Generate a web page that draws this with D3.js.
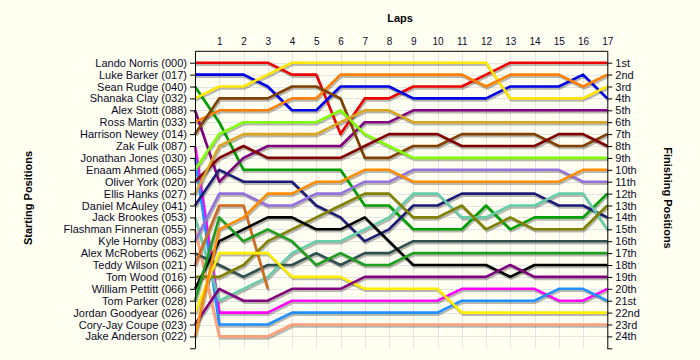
<!DOCTYPE html>
<html><head><meta charset="utf-8">
<script src="https://cdn.jsdelivr.net/npm/d3@7/dist/d3.min.js"></script>
<style>
body{margin:0;background:#fffff2;}
text{font-family:"Liberation Sans",Arial,sans-serif;}
</style>
</head><body>
<svg id="c" width="700" height="360"></svg>
<script>
const lapTicks = d3.range(1, 18);
const startNames = ["Lando Norris (000)","Luke Barker (017)","Sean Rudge (040)","Shanaka Clay (032)","Alex Stott (088)","Ross Martin (033)","Harrison Newey (014)","Zak Fulk (087)","Jonathan Jones (030)","Enaam Ahmed (065)","Oliver York (020)","Ellis Hanks (027)","Daniel McAuley (041)","Jack Brookes (053)","Flashman Finneran (055)","Kyle Hornby (083)","Alex McRoberts (062)","Teddy Wilson (021)","Tom Wood (016)","William Pettitt (066)","Tom Parker (028)","Jordan Goodyear (026)","Cory-Jay Coupe (023)","Jake Anderson (022)"];
const finishLabels = ["1st","2nd","3rd","4th","5th","6th","7th","8th","9th","10th","11th","12th","13th","14th","15th","16th","17th","18th","19th","20th","21st","22nd","23rd","24th"];

// positions at lap 0..17
const norris    = [1,1,1,1,2,2,7,4,4,3,3,3,2,1,1,1,1,1];
const barker    = [2,2,2,3,5,5,3,3,3,4,4,4,4,3,3,3,2,4];
const rudge     = [3,6,10,10,10,10,10,13,13,15,15,15,13,15,14,14,14,12];
const clay      = [4,3,3,2,1,1,1,1,1,1,1,1,1,4,4,4,4,3];
const stott     = [5,11,9,8,8,8,8,6,6,5,5,5,5,5,5,5,5,5];
const martin    = [6,5,5,5,4,4,2,2,2,2,2,2,3,2,2,2,3,2];
const newey     = [7,4,4,4,3,3,4,9,9,8,8,7,7,7,7,8,8,7];
const fulk      = [8,22,22,22,21,21,21,21,21,21,21,20,20,20,20,21,21,20];
const jones     = [9,23,23,23,22,22,22,22,22,22,22,21,21,21,21,20,20,21];
const ahmed     = [10,7,6,6,6,6,5,7,8,9,9,9,9,9,9,9,9,9];
const york      = [11,9,8,9,9,9,9,8,7,7,7,8,8,8,8,7,7,8];
const hanks     = [12,8,7,7,7,7,6,5,5,6,6,6,6,6,6,6,6,6];
const mcauley   = [13,10,11,11,11,13,14,16,15,13,13,12,12,12,12,13,13,14];
const brookes   = [14,21,20,19,17,16,16,15,14,12,12,14,14,13,13,12,12,15];
const finneran  = [15,24,24,24,23,23,23,23,23,23,23,23,23,23,23,23,23,23];
const hornby    = [16,12,12,13,13,12,12,11,11,10,10,10,10,10,10,10,11,11];
const mcroberts = [17,18,19,18,18,17,18,17,17,16,16,16,16,16,16,16,16,16];
const wilson    = [18,13,13,20];
const wood      = [19,19,18,16,15,14,13,12,12,14,14,13,15,14,15,15,15,13];
const pettitt   = [20,16,15,14,14,15,15,14,16,18,18,18,18,19,18,18,18,18];
const parker    = [21,14,16,15,16,18,17,18,18,17,17,17,17,17,17,17,17,17];
const goodyear  = [22,17,17,17,19,19,19,20,20,20,20,22,22,22,22,22,22,22];
const coupe     = [23,20,21,21,20,20,20,19,19,19,19,19,19,18,19,19,19,19];
const anderson  = [24,15,14,12,12,11,11,10,10,11,11,11,11,11,11,11,10,10];

const series = [norris,barker,rudge,clay,stott,martin,newey,fulk,jones,ahmed,york,hanks,mcauley,brookes,finneran,hornby,mcroberts,wilson,wood,pettitt,parker,goodyear,coupe,anderson];
const colors = ["#ee0000","#0000e6","#00a000","#ffe600","#800080","#ff8000","#804000","#ff00ff","#1e90ff","#80ff00","#800000","#daa520","#1c1c78","#66cdaa","#ffa07a","#9370db","#2f4f4f","#d2691e","#808000","#000000","#1e9e1e","#ffee00","#800080","#ff8c00"];

const svg = d3.select("#c");
const x = d3.scaleLinear().domain([0,17]).range([195,607.3]);
const y = d3.scaleLinear().domain([0,25]).range([50.8,348.3]);

// grid
const grid = svg.append("g").attr("stroke","#e4e4e4").attr("stroke-width",1);
grid.selectAll("line.v").data(lapTicks.slice(0,-1)).join("line").attr("class","v")
  .attr("x1",d=>Math.round(x(d))+0.5).attr("x2",d=>Math.round(x(d))+0.5)
  .attr("y1",y(0)).attr("y2",y(25));
grid.selectAll("line.h").data(d3.range(1,25)).join("line").attr("class","h")
  .attr("x1",x(0)).attr("x2",x(17))
  .attr("y1",d=>Math.round(y(d))+0.5).attr("y2",d=>Math.round(y(d))+0.5);

const line = d3.line().x((d,i)=>x(i)).y(d=>y(d));

// shadows
svg.append("g").attr("transform","translate(1,2)")
  .selectAll("path").data(series).join("path")
  .attr("d",line).attr("fill","none").attr("stroke","rgba(0,0,0,0.28)")
  .attr("stroke-width",2.6).attr("stroke-linejoin","round");

svg.append("g").selectAll("path").data(series).join("path")
  .attr("d",line).attr("fill","none").attr("stroke",(d,i)=>colors[i])
  .attr("stroke-width",2.6).attr("stroke-linejoin","round");

// axes
const fontSize = 11;
const axL = svg.append("g").attr("transform",`translate(${x(0)},0)`)
  .call(d3.axisLeft(y).tickValues(d3.range(1,26)).tickFormat(d=>startNames[d-1]||"").tickSize(5).tickSizeOuter(0).tickPadding(3));
const axR = svg.append("g").attr("transform",`translate(${x(17)},0)`)
  .call(d3.axisRight(y).tickValues(d3.range(1,26)).tickFormat(d=>finishLabels[d-1]||"").tickSize(5).tickSizeOuter(0).tickPadding(3));
const axT = svg.append("g").attr("transform",`translate(0,${y(0)})`)
  .call(d3.axisTop(x).tickValues(lapTicks).tickSize(0).tickSizeOuter(0).tickPadding(6));
[axL,axR].forEach(g=>{
  g.selectAll("text").attr("font-size",fontSize).attr("fill","#0a0a28").attr("font-family","Liberation Sans, Arial, sans-serif");
  g.selectAll("line,path").attr("stroke","#000");
});
axT.selectAll("text").attr("font-size",10).attr("fill","#0a0a28").attr("font-family","Liberation Sans, Arial, sans-serif");
axT.select("path").attr("stroke","#000");

// titles
svg.append("text").attr("x",400).attr("y",22).attr("text-anchor","middle")
  .attr("font-weight","bold").attr("font-size",11).text("Laps");
svg.append("text").attr("transform","translate(32,198) rotate(-90)").attr("text-anchor","middle")
  .attr("font-weight","bold").attr("font-size",11).text("Starting Positions");
svg.append("text").attr("transform","translate(664,198) rotate(90)").attr("text-anchor","middle")
  .attr("font-weight","bold").attr("font-size",11).text("Finishing Positions");
</script>
</body></html>
